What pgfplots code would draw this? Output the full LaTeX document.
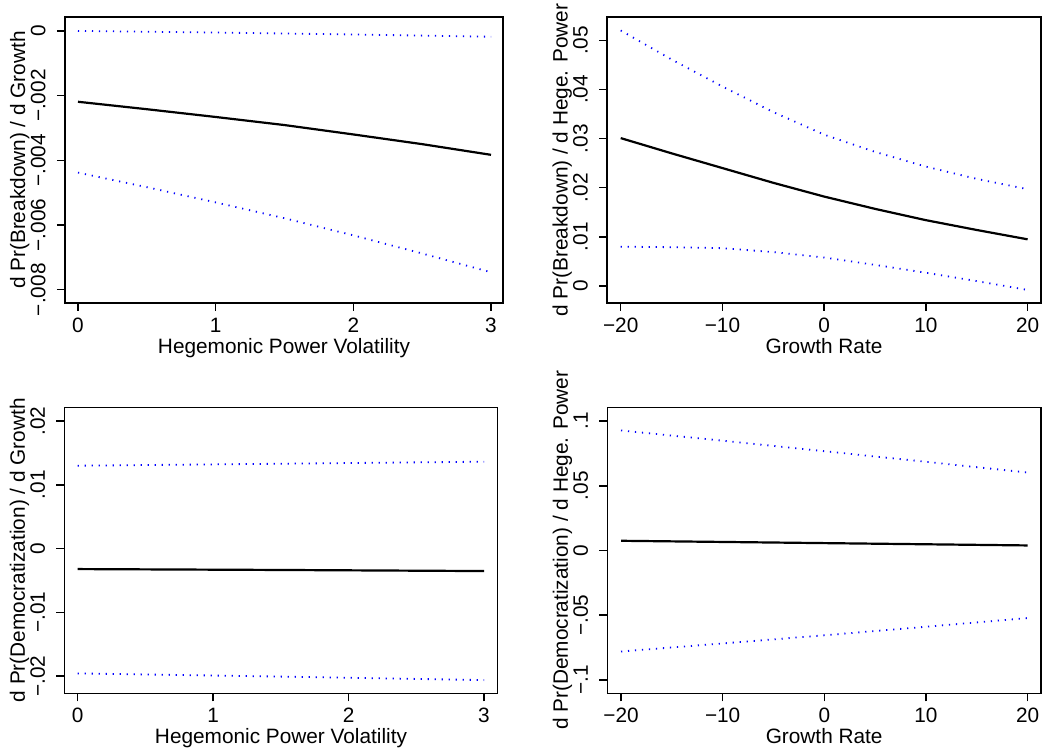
\documentclass[border=0pt]{standalone}
\usepackage{fontspec}
\setmainfont{Liberation Sans}
\usepackage{pgfplots}
\pgfplotsset{compat=1.18}

% Stata-like marginal effect panels
\pgfplotsset{
  panel/.style={
    scale only axis, anchor=south west,
    axis line style={line width=0.75pt, black},
    tick align=outside, xtick pos=left, ytick pos=left,
    major tick length=4pt,
    every tick/.style={line width=0.75pt, black},
    scaled y ticks=false, scaled x ticks=false,
    yticklabel style={rotate=90, anchor=base},
    yticklabel shift=5.75pt,
    xlabel style={at={(axis description cs:0.5,-0.175)}, anchor=base},
    ylabel style={at={(axis description cs:-0.091,0.5)}, anchor=base},
    clip=false,
  },
  est/.style={black, line width=1.1pt, no marks},
  ci/.style={blue, line width=0.9pt, dash pattern=on 0.6pt off 2.9pt, no marks},
}

\begin{document}
\begin{tikzpicture}[font=\fontsize{10.4pt}{12pt}\selectfont]
\path[use as bounding box] (0pt,0pt) rectangle (525pt,-376.5pt);

% top left
\begin{axis}[panel, at={(32.5pt,-151.5pt)}, width=219pt, height=143pt,
  xmin=-0.0944, xmax=3.087, ymin=-0.00841, ymax=0.00043,
  xtick={0,1,2,3}, xticklabels={0,1,2,3},
  ytick={-0.008,-0.006,-0.004,-0.002,0},
  yticklabels={−.008,−.006,−.004,−.002,0},
  xlabel={Hegemonic Power Volatility},
  ylabel={d Pr(Breakdown) / d Growth}]
\addplot[ci] coordinates {(0,0.00000) (1,-0.00005) (2,-0.00011) (3,-0.00018)};
\addplot[est] coordinates {(0,-0.00219) (0.5,-0.00242) (1,-0.00266) (1.5,-0.00291) (2,-0.00320) (2.5,-0.00350) (3,-0.00383)};
\addplot[ci] coordinates {(0,-0.00438) (0.5,-0.00483) (1,-0.00530) (1.5,-0.00579) (2,-0.00632) (2.5,-0.00688) (3,-0.00746)};
\end{axis}

% top right
\begin{axis}[panel, at={(303.5pt,-151.5pt)}, width=217pt, height=143pt,
  xmin=-21.35, xmax=21.32, ymin=-0.00346, ymax=0.05475,
  xtick={-20,-10,0,10,20}, xticklabels={−20,−10,0,10,20},
  ytick={0,0.01,0.02,0.03,0.04,0.05},
  yticklabels={0,.01,.02,.03,.04,.05},
  xlabel={Growth Rate},
  ylabel={d Pr(Breakdown) / d Hege. Power}]
\addplot[ci] coordinates {(-20,0.0520) (-15,0.0461) (-10,0.0406) (-5,0.0354) (0,0.0308) (5,0.0273) (10,0.0243) (15,0.0218) (20,0.0197)};
\addplot[est] coordinates {(-20,0.0301) (-15,0.0270) (-10,0.0240) (-5,0.0210) (0,0.0182) (5,0.0157) (10,0.0134) (15,0.0114) (20,0.0095)};
\addplot[ci] coordinates {(-20,0.0080) (-15,0.0079) (-10,0.0077) (-5,0.0069) (0,0.0058) (5,0.0043) (10,0.0027) (15,0.0010) (20,-0.0008)};
\end{axis}

% bottom left
\begin{axis}[panel, at={(32.15pt,-346.65pt)}, width=216.7pt, height=143pt,
  xmin=-0.099, xmax=3.101, ymin=-0.0227, ymax=0.02215,
  xtick={0,1,2,3}, xticklabels={0,1,2,3},
  ytick={-0.02,-0.01,0,0.01,0.02},
  yticklabels={−.02,−.01,0,.01,.02},
  xlabel={Hegemonic Power Volatility},
  ylabel={d Pr(Democratization) / d Growth}]
\addplot[ci] coordinates {(0,0.01299) (1.5,0.01330) (3,0.01362)};
\addplot[est] coordinates {(0,-0.00322) (1.5,-0.00336) (3,-0.00353)};
\addplot[ci] coordinates {(0,-0.01958) (1.5,-0.02008) (3,-0.02063)};
\end{axis}

% bottom right
\begin{axis}[panel, at={(303.65pt,-346.65pt)}, width=216.85pt, height=143pt,
  xmin=-21.35, xmax=21.32, ymin=-0.1103, ymax=0.1106,
  xtick={-20,-10,0,10,20}, xticklabels={−20,−10,0,10,20},
  ytick={-0.1,-0.05,0,0.05,0.1},
  yticklabels={−.1,−.05,0,.05,.1},
  xlabel={Growth Rate},
  ylabel={d Pr(Democratization) / d Hege. Power}]
\addplot[ci] coordinates {(-20,0.0927) (-10,0.0848) (0,0.0767) (10,0.0685) (20,0.0602)};
\addplot[est] coordinates {(-20,0.0075) (-10,0.0066) (0,0.0057) (10,0.0048) (20,0.0039)};
\addplot[ci] coordinates {(-20,-0.0780) (-10,-0.0718) (0,-0.0655) (10,-0.0589) (20,-0.0522)};
\end{axis}
\end{tikzpicture}
\end{document}
